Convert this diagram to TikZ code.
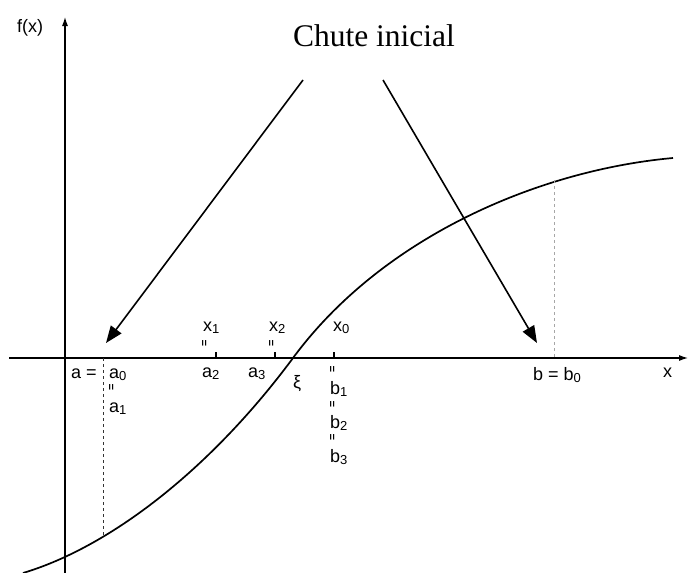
\documentclass[tikz,border=0pt]{standalone}
\usepackage{fontspec}
\setmainfont{Liberation Sans}
\newfontfamily\titlefont{Liberation Serif}
\usetikzlibrary{arrows.meta,positioning}
\newcommand{\subidx}[1]{\raisebox{-0.3ex}{\fontsize{13}{13}\selectfont #1}}
\newcommand{\dittomark}{\rotatebox{90}{\fontsize{11}{11}\selectfont\bfseries =}}

\begin{document}
\begin{tikzpicture}[x=1pt, y=-1pt,
  axis/.style={line width=1.1pt, -{Latex[length=9pt,width=6pt]}},
  curve/.style={line width=1.7pt},
  guide/.style={dashed, dash pattern=on 3pt off 3pt, line width=0.9pt},
  pointer/.style={line width=1.6pt, -{Triangle[length=17pt,width=13pt]}},
  lab/.style={font=\fontsize{18}{18}\selectfont, inner sep=0pt, anchor=base west},
  eqmark/.style={inner sep=0pt},
  tick/.style={line width=1.1pt}
]
\useasboundingbox (0,0) rectangle (689,573);

% axes
\draw[axis] (65,573) -- (65,17);
\draw[axis] (9,358) -- (688,358);
\draw[line width=1.8pt] (210,358) -- (334,358);
\draw[tick] (216,358) -- (216,352);
\draw[tick] (275,358) -- (275,352);
\draw[tick] (334,358) -- (334,352);

% the function
\draw[curve] (23,573) .. controls (113,546) and (213,466) .. (293,358)
  .. controls (383,236) and (540,170) .. (673,158);
\draw[guide, black!80] (103,358) -- (103,535);
\draw[guide, gray!70] (554,180) -- (554,358);

% labels on the axes
\node[lab] (fx) at (17,32) {f(x)};
\node[lab] (xlab) at (663,377) {x};
\node[lab] (aeq) at (71,378) {a =};
\node[lab] (a0) at (109,378) {a\subidx{0}};
\node[eqmark] (da1) at (112,387) {\dittomark};
\node[lab] (a1) at (109,412) {a\subidx{1}};
\node[lab] (x1) at (203,331) {x\subidx{1}};
\node[eqmark] (dx1) at (205,343) {\dittomark};
\node[lab] (a2) at (202,377) {a\subidx{2}};
\node[lab] (x2) at (269,331) {x\subidx{2}};
\node[eqmark] (dx2) at (272,343) {\dittomark};
\node[lab] (a3) at (248,377) {a\subidx{3}};
\node[lab] (xi) at (293,388) {ξ};
\node[lab] (x0) at (333,331) {x\subidx{0}};
\node[eqmark] (db1) at (333,369) {\dittomark};
\node[lab] (b1) at (330,394) {b\subidx{1}};
\node[eqmark] (db2) at (333,404) {\dittomark};
\node[lab] (b2) at (330,428) {b\subidx{2}};
\node[eqmark] (db3) at (333,437) {\dittomark};
\node[lab] (b3) at (330,462) {b\subidx{3}};
\node[lab] (beq) at (533,380) {b = b\subidx{0}};

% initial guess
\node[font=\titlefont\fontsize{31.5}{34}\selectfont, inner sep=0pt] (guess) at (374,36) {Chute inicial};
\coordinate (fromA) at (303,80);
\coordinate (fromB) at (383,80);
\coordinate (toA) at (106,343);
\coordinate (toB) at (537,343);
\draw[pointer] (fromA) -- (toA);
\draw[pointer] (fromB) -- (toB);
\end{tikzpicture}
\end{document}
